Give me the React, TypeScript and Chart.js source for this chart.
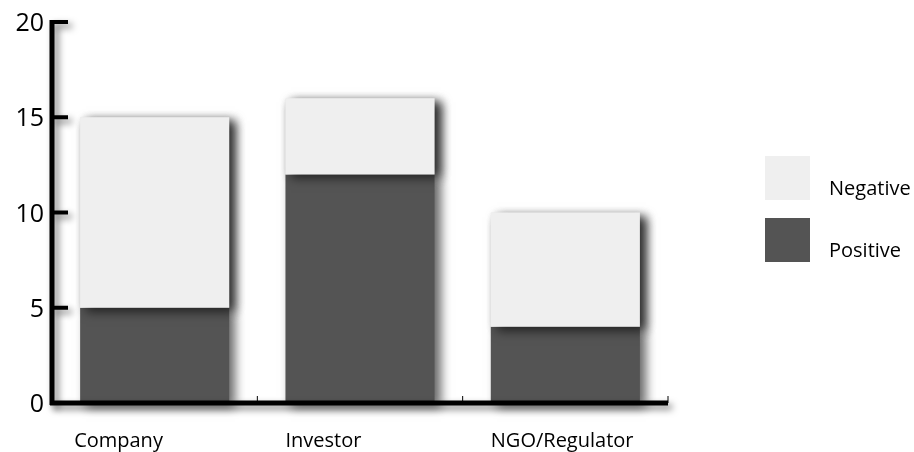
import React, { useEffect, useRef } from "react";
import { Chart, registerables } from "chart.js";

Chart.register(...registerables);

const categories = ["Company", "Investor", "NGO/Regulator"];
const positiveValues = [5, 12, 4];
const negativeValues = [10, 4, 6];
const yTicks = [0, 5, 10, 15, 20];
const legendItems = ["Negative", "Positive"];

const POS_COLOR = "#545454";
const NEG_COLOR = "#efefef";
const FONT = "'Open Sans', 'Noto Sans', sans-serif";

function setShadow(ctx: CanvasRenderingContext2D) {
  ctx.shadowColor = "rgba(0,0,0,0.6)";
  ctx.shadowBlur = 10;
  ctx.shadowOffsetX = 6;
  ctx.shadowOffsetY = 4;
}

const shadowPlugin = {
  id: "barShadow",
  beforeDatasetsDraw(chart: any) {
    const ctx = chart.ctx;
    ctx.save();
    setShadow(ctx);
  },
  afterDatasetsDraw(chart: any) {
    const ctx = chart.ctx;
    const meta = chart.getDatasetMeta(1);
    meta.data.forEach((el: any) => el.draw(ctx));
    ctx.restore();
  },
};

const axesPlugin = {
  id: "customAxes",
  afterDatasetsDraw(chart: any) {
    const ctx = chart.ctx;
    const y = chart.scales.y;
    const x = chart.scales.x;
    const area = chart.chartArea;
    const axisX = area.left;
    const axisY = y.getPixelForValue(0);
    const topY = y.getPixelForValue(20);

    ctx.save();
    ctx.shadowColor = "rgba(0,0,0,0.5)";
    ctx.shadowBlur = 7;
    ctx.shadowOffsetX = 4;
    ctx.shadowOffsetY = 4;
    ctx.strokeStyle = "#000";
    ctx.lineCap = "butt";

    ctx.lineWidth = 5;
    ctx.beginPath();
    ctx.moveTo(axisX, topY - 2);
    ctx.lineTo(axisX, axisY + 2);
    ctx.stroke();

    ctx.lineWidth = 4;
    yTicks.forEach((v) => {
      if (v === 0) return;
      const py = y.getPixelForValue(v);
      ctx.beginPath();
      ctx.moveTo(axisX, py);
      ctx.lineTo(axisX + 16, py);
      ctx.stroke();
    });

    ctx.lineWidth = 5;
    ctx.beginPath();
    ctx.moveTo(axisX - 2, axisY);
    ctx.lineTo(area.right, axisY);
    ctx.stroke();

    ctx.shadowColor = "rgba(0,0,0,0)";
    ctx.lineWidth = 1;
    const n = categories.length;
    for (let i = 1; i <= n; i++) {
      const px =
        i < n
          ? (x.getPixelForValue(i - 1) + x.getPixelForValue(i)) / 2
          : area.right;
      ctx.beginPath();
      ctx.moveTo(px, axisY);
      ctx.lineTo(px, axisY - 7);
      ctx.stroke();
    }
    ctx.restore();

    ctx.save();
    ctx.fillStyle = "#000";
    ctx.font = `25px ${FONT}`;
    ctx.textAlign = "right";
    ctx.textBaseline = "middle";
    yTicks.forEach((v) => {
      const py = y.getPixelForValue(v);
      ctx.fillText(String(v), axisX - 8, py + 2);
    });

    ctx.font = `20px ${FONT}`;
    ctx.textAlign = "left";
    const meta = chart.getDatasetMeta(0);
    categories.forEach((c, i) => {
      const el = meta.data[i];
      const left = el.x - el.width / 2;
      ctx.fillText(c, left - (i === 0 ? 6 : 0), axisY + 38);
    });

    const lx = area.right + 97;
    const colors = [NEG_COLOR, POS_COLOR];
    const boxTops = [156, 218];
    legendItems.forEach((label, i) => {
      ctx.fillStyle = colors[i];
      ctx.fillRect(lx, boxTops[i], 45, 44);
      ctx.fillStyle = "#000";
      ctx.font = `20px ${FONT}`;
      ctx.fillText(label, lx + 64, boxTops[i] + 33);
    });
    ctx.restore();
  },
};

export default function App() {
  const canvasRef = useRef<HTMLCanvasElement | null>(null);

  useEffect(() => {
    if (!canvasRef.current) return;
    const chart = new Chart(canvasRef.current, {
      type: "bar",
      data: {
        labels: categories,
        datasets: [
          {
            label: "Positive",
            data: positiveValues,
            backgroundColor: POS_COLOR,
            clip: false as any,
            barPercentage: 0.726,
            categoryPercentage: 1,
          },
          {
            label: "Negative",
            data: negativeValues,
            backgroundColor: NEG_COLOR,
            clip: false as any,
            barPercentage: 0.726,
            categoryPercentage: 1,
          },
        ],
      },
      options: {
        animation: false,
        responsive: false,
        maintainAspectRatio: false,
        layout: { padding: { left: 52, top: 22, right: 246, bottom: 49 } },
        plugins: {
          legend: { display: false },
          tooltip: { enabled: false },
        },
        scales: {
          x: { stacked: true, display: false },
          y: { stacked: true, display: false, min: 0, max: 20 },
        },
      },
      plugins: [shadowPlugin, axesPlugin],
    });
    return () => chart.destroy();
  }, []);

  return (
    <div
      style={{
        position: "absolute",
        left: 0,
        top: 0,
        width: 914,
        height: 452,
        background: "#fff",
      }}
    >
      <canvas ref={canvasRef} width={914} height={452} style={{ width: 914, height: 452 }} />
    </div>
  );
}
